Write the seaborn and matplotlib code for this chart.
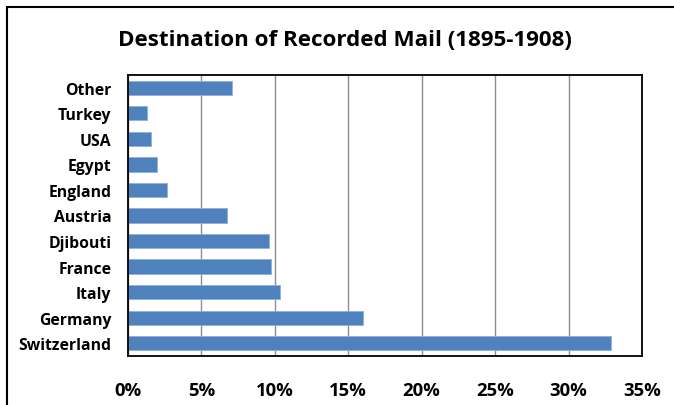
import matplotlib
matplotlib.use("Agg")
import matplotlib.pyplot as plt
from matplotlib.ticker import PercentFormatter
from matplotlib.patches import Rectangle
import pandas as pd
import seaborn as sns

# Destinations, top to bottom as in the chart
destinations = ["Other", "Turkey", "USA", "Egypt", "England", "Austria",
                "Djibouti", "France", "Italy", "Germany", "Switzerland"]
# Share of recorded mail (%)
share = [7.1, 1.3, 1.6, 2.0, 2.65, 6.75, 9.6, 9.75, 10.35, 16.0, 32.9]
x_ticks = [0, 5, 10, 15, 20, 25, 30, 35]

df = pd.DataFrame({"Destination": destinations, "Share": share})

sns.set_style("white")
plt.rcParams["font.family"] = ["Open Sans", "DejaVu Sans"]
plt.rcParams["text.color"] = "black"
plt.rcParams["xtick.color"] = "black"
plt.rcParams["ytick.color"] = "black"

fig = plt.figure(figsize=(6.74, 4.06), dpi=100)
ax = fig.add_axes([128 / 674, 1 - 357 / 406, (642 - 128) / 674, (357 - 76) / 406])

sns.barplot(data=df, x="Share", y="Destination", order=destinations,
            color="#4F81BD", width=0.56, edgecolor="#8EB0DA", linewidth=0.6,
            saturation=1, ax=ax)

ax.set_xlim(0, 35)
ax.set_xticks(x_ticks)
ax.xaxis.set_major_formatter(PercentFormatter(decimals=0))
ax.grid(axis="x", color="#8C8C8C", linewidth=1)
ax.set_axisbelow(True)
ax.set_xlabel("")
ax.set_ylabel("")
for s in ax.spines.values():
    s.set_visible(True)
    s.set_color("black")
    s.set_linewidth(1.3)
ax.tick_params(axis="x", length=0, pad=18, labelsize=13.3, labelcolor="black")
ax.tick_params(axis="y", length=0, pad=12, labelsize=11.3, labelcolor="black")
for lbl in ax.get_xticklabels() + ax.get_yticklabels():
    lbl.set_fontweight("bold")

fig.text(345 / 674, 1 - 40 / 406, "Destination of Recorded Mail (1895-1908)",
         ha="center", va="center", fontsize=16.1, fontweight="bold",
         color="black")

# outer chart frame (cropped on right and bottom)
fig.patches.append(Rectangle((7 / 674, -0.1), 1.0, 1 - 8 / 406 + 0.1,
                             transform=fig.transFigure, fill=False,
                             edgecolor="black", linewidth=1.5))

fig.savefig("out.png", dpi=100)
